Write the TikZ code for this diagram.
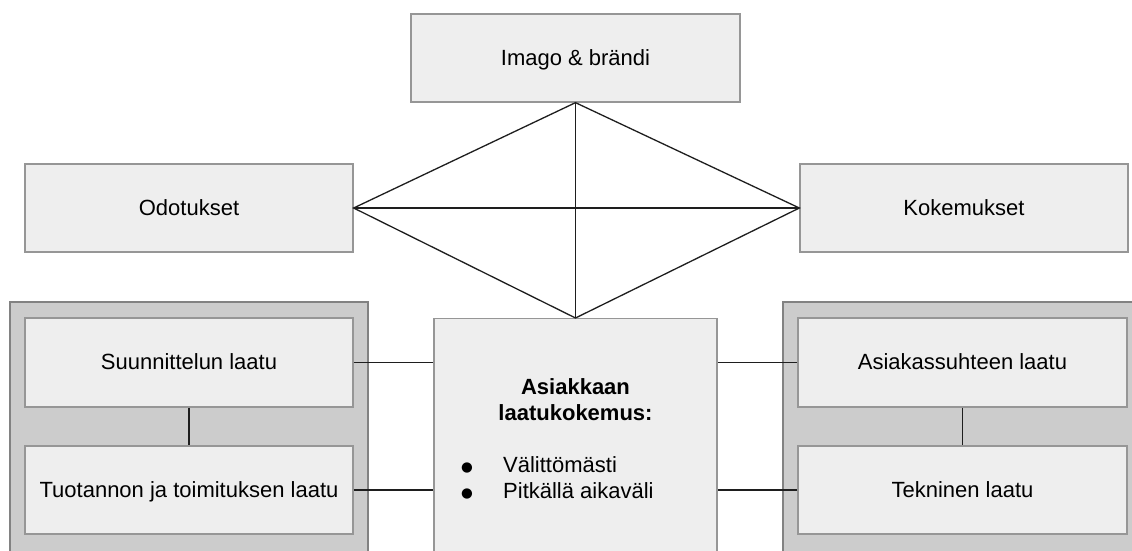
\documentclass[tikz,border=0pt]{standalone}
\usepackage{fontspec}
\setmainfont{Liberation Sans}
\newfontfamily\symfont{DejaVu Sans}
\definecolor{boxfill}{RGB}{238,238,238}
\definecolor{boxline}{RGB}{150,150,150}
\definecolor{panelfill}{RGB}{204,204,204}
\definecolor{panelline}{RGB}{130,130,130}
\definecolor{linkcol}{RGB}{30,30,30}
\tikzset{
  qbox/.style={draw=boxline, fill=boxfill, line width=1.3pt, inner sep=0pt,
    text height=15.8pt, text depth=1.6pt, font=\fontsize{22}{26}\selectfont},
  panel/.style={draw=panelline, fill=panelfill, line width=1.3pt},
  link/.style={draw=linkcol, line width=1.3pt},
  bodytext/.style={inner sep=0pt, font=\fontsize{22}{26}\selectfont},
  bulletmark/.style={inner sep=0pt, anchor=base, font=\symfont\fontsize{13.5}{16}\selectfont},
}
\begin{document}
\begin{tikzpicture}[x=1pt, y=-1pt]
\useasboundingbox (0,0) rectangle (1132,551);
\clip (0,0) rectangle (1132,551);
\fill[white] (0,0) rectangle (1132,551);

% grey panels behind the two quality groups
\draw[panel] (10,302) rectangle (368,570);
\draw[panel] (783,302) rectangle (1150,570);

% upper row
\node[qbox, minimum width=329pt, minimum height=88pt] (imago) at (575.5,58) {Imago \& brändi};
\node[qbox, minimum width=328pt, minimum height=88pt] (odo) at (189,208) {Odotukset};
\node[qbox, minimum width=328pt, minimum height=88pt] (kok) at (964,208) {Kokemukset};

% left group
\node[qbox, minimum width=328pt, minimum height=89pt] (suun) at (189,362.5) {Suunnittelun laatu};
\node[qbox, minimum width=328pt, minimum height=88pt] (tuot) at (189,490) {Tuotannon ja toimituksen laatu};

% right group
\node[qbox, minimum width=329pt, minimum height=89pt] (asia) at (962.5,362.5) {Asiakassuhteen laatu};
\node[qbox, minimum width=329pt, minimum height=88pt] (tekn) at (962.5,490) {Tekninen laatu};

% central box (runs past the lower edge)
\node[qbox, minimum width=283pt, minimum height=260pt, anchor=north] (core) at (575.5,318) {};
\node[bodytext, anchor=base, font=\fontsize{22}{26}\selectfont\bfseries] (t1) at (575.5,394.3) {Asiakkaan};
\node[bodytext, anchor=base, font=\fontsize{22}{26}\selectfont\bfseries] (t2) at (575.5,420) {laatukokemus:};
\node[bulletmark] (b1) at (467,471) {●};
\node[bodytext, anchor=base west] (i1) at (503,472.3) {Välittömästi};
\node[bulletmark] (b2) at (467,497) {●};
\node[bodytext, anchor=base west] (i2) at (503,498) {Pitkällä aikaväli};

% diamond between the four central boxes
\draw[link] (imago.south) -- (odo.east) -- (core.north) -- (kok.west) -- cycle;
\draw[link] (odo.east) -- (kok.west);
\draw[link] (imago.south) -- (core.north);

% links inside the groups
\draw[link] (suun.south) -- (tuot.north);
\draw[link] (asia.south) -- (tekn.north);

% links to the central box
\draw[link] (suun.east) -- (suun.east -| core.west);
\draw[link] (tuot.east) -- (tuot.east -| core.west);
\draw[link] (asia.west) -- (asia.west -| core.east);
\draw[link] (tekn.west) -- (tekn.west -| core.east);
\end{tikzpicture}
\end{document}
